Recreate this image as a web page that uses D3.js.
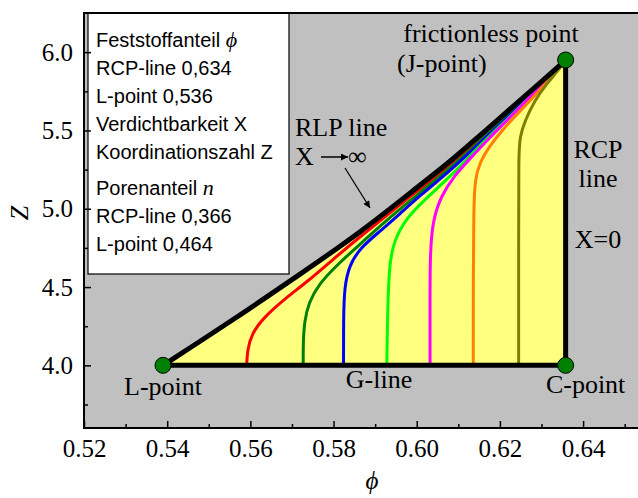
<!DOCTYPE html>
<html>
<head>
<meta charset="utf-8">
<script src="https://cdn.jsdelivr.net/npm/d3@7"></script>
<style>
  body { margin: 0; background: #fff; }
  svg { display: block; }
</style>
</head>
<body>
<svg id="chart" width="638" height="498"></svg>
<script>
// Achsen
const xMajor = [0.52, 0.54, 0.56, 0.58, 0.60, 0.62, 0.64];
const xMinor = [0.53, 0.55, 0.57, 0.59, 0.61, 0.63, 0.65];
const yMajor = [4.0, 4.5, 5.0, 5.5, 6.0];
const yMinor = [3.75, 4.25, 4.75, 5.25, 5.75];

// Eckpunkte
const lPoint = [0.539, 4.0];
const cPoint = [0.6358, 4.0];
const jPoint = [0.6358, 5.95];

// RLP line (X -> unendlich)
const rlpLine = [[0.539, 4.0], [0.5551, 4.277], [0.5719, 4.581], [0.5864, 4.847], [0.6008, 5.152],
  [0.6080, 5.300], [0.6152, 5.469], [0.6225, 5.637], [0.6297, 5.806], [0.6345, 5.918], [0.6358, 5.95]];

// Kurven konstanter Verdichtbarkeit
const curveRed = [[0.5591, 4.0], [0.5593, 4.10], [0.5603, 4.20], [0.5630, 4.30], [0.5680, 4.42],
  [0.5740, 4.54], [0.5800, 4.68], [0.5864, 4.822], [0.5960, 5.027], [0.6080, 5.278],
  [0.6152, 5.450], [0.6225, 5.621], [0.6297, 5.797], [0.6358, 5.95]];
const curveDarkGreen = [[0.5727, 4.0], [0.5727, 4.15], [0.5730, 4.28], [0.5740, 4.40], [0.5765, 4.52],
  [0.5808, 4.64], [0.5864, 4.775], [0.5912, 4.890], [0.5960, 5.000], [0.6080, 5.258], [0.6152, 5.433],
  [0.6225, 5.609], [0.6297, 5.790], [0.6358, 5.95]];
const curveBlue = [[0.5824, 4.0], [0.5824, 4.30], [0.5826, 4.50], [0.5838, 4.64], [0.5864, 4.750],
  [0.5912, 4.857], [0.5960, 4.969], [0.6008, 5.084], [0.6080, 5.242], [0.6152, 5.421], [0.6225, 5.599],
  [0.6297, 5.784], [0.6358, 5.95]];
const curveGreen = [[0.5928, 4.0], [0.5930, 4.35], [0.5934, 4.65], [0.5946, 4.80], [0.5975, 4.94],
  [0.6020, 5.06], [0.6070, 5.18], [0.6110, 5.285], [0.6152, 5.405], [0.6225, 5.590], [0.6297, 5.778],
  [0.6358, 5.95]];
const curveMagenta = [[0.6032, 4.0], [0.6032, 4.40], [0.6032, 4.70], [0.6038, 4.92], [0.6058, 5.08],
  [0.6090, 5.21], [0.6128, 5.32], [0.6170, 5.44], [0.6225, 5.585], [0.6297, 5.781],
  [0.6358, 5.95]];
const curveOrange = [[0.6136, 4.0], [0.6136, 4.60], [0.6137, 5.0], [0.6140, 5.19], [0.6152, 5.30],
  [0.6175, 5.40], [0.6205, 5.50], [0.6240, 5.60], [0.6280, 5.71], [0.6320, 5.83],
  [0.6358, 5.95]];
const curveOlive = [[0.6245, 4.0], [0.6245, 4.8], [0.6245, 5.35], [0.6248, 5.46], [0.6260, 5.56],
  [0.6283, 5.69], [0.6313, 5.80], [0.6341, 5.885], [0.6358, 5.95]];

const curves = [curveRed, curveDarkGreen, curveBlue, curveGreen, curveMagenta, curveOrange, curveOlive];
const curveColors = ["#ff0000", "#008000", "#0000ff", "#00ff00", "#ff00ff", "#ff8000", "#808000"];

const legendLines = ["RCP-line 0,634", "L-point 0,536", "Verdichtbarkeit X", "Koordinationszahl Z"];
const legendLines2 = ["RCP-line 0,366", "L-point 0,464"];

const svg = d3.select("#chart");
const serif = "'Liberation Serif', 'DejaVu Serif', serif";
const sans = "'Liberation Sans', Arial, sans-serif";

const m = { left: 84, right: 638, top: 13, bottom: 428 };
const x = d3.scaleLinear().domain([0.52, 0.6532]).range([m.left, m.right]);
const y = d3.scaleLinear().domain([3.6, 6.25]).range([m.bottom, m.top]);

// Hintergrund
svg.append("rect")
  .attr("x", m.left).attr("y", m.top)
  .attr("width", m.right - m.left).attr("height", m.bottom - m.top)
  .attr("fill", "#c0c0c0");

svg.append("clipPath").attr("id", "clip")
  .append("rect")
  .attr("x", m.left).attr("y", m.top)
  .attr("width", m.right - m.left).attr("height", m.bottom - m.top);

const plot = svg.append("g").attr("clip-path", "url(#clip)");

const lineGen = d3.line()
  .x(d => x(d[0]))
  .y(d => y(d[1]))
  .curve(d3.curveBasis);

// gelbe Flaeche
plot.append("path")
  .attr("d", lineGen(rlpLine) + `L${x(cPoint[0])},${y(cPoint[1])}Z`)
  .attr("fill", "#ffff80");

// farbige Kurven
plot.selectAll(".curve")
  .data(curves)
  .enter()
  .append("path")
  .attr("class", "curve")
  .attr("d", d => lineGen(d))
  .attr("fill", "none")
  .attr("stroke", (d, i) => curveColors[i])
  .attr("stroke-width", 3);

// RLP, RCP und G-line
plot.append("path")
  .attr("d", lineGen(rlpLine))
  .attr("fill", "none")
  .attr("stroke", "#000")
  .attr("stroke-width", 5);

plot.append("path")
  .attr("d", d3.line().x(d => x(d[0])).y(d => y(d[1]))([lPoint, cPoint, jPoint]))
  .attr("fill", "none")
  .attr("stroke", "#000")
  .attr("stroke-width", 5)
  .attr("stroke-linejoin", "miter");

plot.selectAll(".pt")
  .data([lPoint, cPoint, jPoint])
  .enter()
  .append("circle")
  .attr("class", "pt")
  .attr("cx", d => x(d[0]))
  .attr("cy", d => y(d[1]))
  .attr("r", 8)
  .attr("fill", "#008000")
  .attr("stroke", "#000")
  .attr("stroke-width", 1);

// Legende
svg.append("rect")
  .attr("x", 88).attr("y", m.top)
  .attr("width", 201).attr("height", 261)
  .attr("fill", "#fff")
  .attr("stroke", "#000")
  .attr("stroke-width", 1.2);

const leg = svg.append("g")
  .attr("font-family", sans)
  .attr("font-size", 20)
  .attr("fill", "#000");

const t1 = leg.append("text").attr("x", 96).attr("y", 47);
t1.append("tspan").text("Feststoffanteil ");
t1.append("tspan").attr("font-family", serif).attr("font-style", "italic").attr("font-size", 22).text("ϕ");

legendLines.forEach((s, i) => {
  leg.append("text").attr("x", 96).attr("y", 75 + i * 28).text(s);
});

const t2 = leg.append("text").attr("x", 96).attr("y", 195);
t2.append("tspan").text("Porenanteil ");
t2.append("tspan").attr("font-family", serif).attr("font-style", "italic").attr("font-size", 22).text("n");

legendLines2.forEach((s, i) => {
  leg.append("text").attr("x", 96).attr("y", 223 + i * 28).text(s);
});

// Beschriftungen
const ann = svg.append("g")
  .attr("font-family", serif)
  .attr("font-size", 26)
  .attr("fill", "#000");

ann.append("text").attr("x", 491).attr("y", 42).attr("text-anchor", "middle").text("frictionless point");
ann.append("text").attr("x", 397).attr("y", 72).text("(J-point)");
ann.append("text").attr("x", 295).attr("y", 136).text("RLP line");
ann.append("text").attr("x", 295).attr("y", 165).text("X");
ann.append("text").attr("x", 348).attr("y", 165).text("∞");
ann.append("text").attr("x", 598).attr("y", 158).attr("text-anchor", "middle").text("RCP");
ann.append("text").attr("x", 598).attr("y", 187).attr("text-anchor", "middle").text("line");
ann.append("text").attr("x", 598).attr("y", 248).attr("text-anchor", "middle").text("X=0");
ann.append("text").attr("x", x(lPoint[0])).attr("y", 395).attr("text-anchor", "middle").text("L-point");
ann.append("text").attr("x", 379).attr("y", 388).attr("text-anchor", "middle").text("G-line");
ann.append("text").attr("x", x(cPoint[0]) + 20).attr("y", 393).attr("text-anchor", "middle").text("C-point");

// Pfeile
svg.append("defs").append("marker")
  .attr("id", "arrow")
  .attr("viewBox", "0 0 10 10")
  .attr("refX", 10).attr("refY", 5)
  .attr("markerWidth", 10).attr("markerHeight", 7)
  .attr("markerUnits", "userSpaceOnUse")
  .attr("orient", "auto")
  .append("path")
  .attr("d", "M0,0L10,5L0,10Z")
  .attr("fill", "#000");

svg.append("line")
  .attr("x1", 321).attr("y1", 157).attr("x2", 348).attr("y2", 157)
  .attr("stroke", "#000").attr("stroke-width", 1.5)
  .attr("marker-end", "url(#arrow)");

svg.append("line")
  .attr("x1", 345).attr("y1", 168).attr("x2", 370).attr("y2", 208)
  .attr("stroke", "#000").attr("stroke-width", 1.2)
  .attr("marker-end", "url(#arrow)");

// Achsen
function styleAxis(g) {
  g.select(".domain").remove();
  g.selectAll(".tick line").attr("stroke", "#000").attr("stroke-width", 1.5);
  g.selectAll("text").attr("font-family", serif).attr("font-size", 25).attr("fill", "#000");
}

svg.append("g")
  .attr("transform", `translate(0,${m.bottom})`)
  .call(d3.axisBottom(x).tickValues(xMajor).tickSize(-7).tickPadding(11).tickFormat(d3.format(".2f")))
  .call(styleAxis);

svg.append("g")
  .attr("transform", `translate(0,${m.bottom})`)
  .call(d3.axisBottom(x).tickValues(xMinor).tickSize(-4).tickFormat(""))
  .call(styleAxis);

svg.append("g")
  .attr("transform", `translate(${m.left},0)`)
  .call(d3.axisLeft(y).tickValues(yMajor).tickSize(-7).tickPadding(11).tickFormat(d3.format(".1f")))
  .call(styleAxis);

svg.append("g")
  .attr("transform", `translate(${m.left},0)`)
  .call(d3.axisLeft(y).tickValues(yMinor).tickSize(-4).tickFormat(""))
  .call(styleAxis);

// Rahmen
svg.append("path")
  .attr("d", `M${m.right},${m.top}H${m.left}V${m.bottom}H${m.right}`)
  .attr("fill", "none")
  .attr("stroke", "#000")
  .attr("stroke-width", 2);

// Achsentitel
svg.append("text")
  .attr("transform", "translate(28,213) rotate(-90)")
  .attr("text-anchor", "middle")
  .attr("font-family", serif)
  .attr("font-style", "italic")
  .attr("font-size", 26)
  .text("Z");

svg.append("text")
  .attr("x", 372).attr("y", 489)
  .attr("text-anchor", "middle")
  .attr("font-family", serif)
  .attr("font-style", "italic")
  .attr("font-size", 25)
  .text("ϕ");
</script>
</body>
</html>
